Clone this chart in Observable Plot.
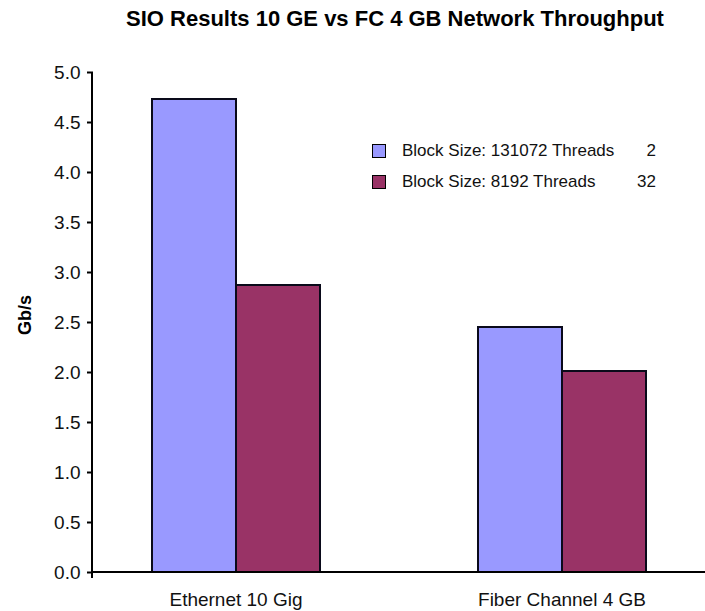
<!DOCTYPE html>
<html>
<head>
<meta charset="utf-8">
<script src="https://cdn.jsdelivr.net/npm/d3@7"></script>
<script src="https://cdn.jsdelivr.net/npm/@observablehq/plot@0.6"></script>
<style>
  html, body { margin: 0; padding: 0; background: #fff; }
  #wrap { position: relative; width: 705px; height: 611px; font-family: "Liberation Sans", Arial, Helvetica, sans-serif; }
  #title { position: absolute; left: 85px; width: 620px; top: 6px; text-align: center; font-weight: bold; font-size: 22px; color: #000; white-space: nowrap; }
  #ylabel { position: absolute; left: 25px; top: 315px; transform: translate(-50%, -50%) rotate(-90deg); font-weight: bold; font-size: 18px; white-space: nowrap; }
  #legend { position: absolute; left: 372px; top: 135px; font-size: 17px; color: #111; }
  .row { display: flex; align-items: center; height: 31px; }
  .sw { width: 12px; height: 12px; border: 1.5px solid #000; margin-right: 16px; box-sizing: content-box; }
  .lab { width: 230px; white-space: nowrap; }
  .num { width: 24px; text-align: right; }
  #chart { position: absolute; left: 0; top: 0; }
</style>
</head>
<body>
<div id="wrap">
  <div id="chart"></div>
  <div id="title"></div>
  <div id="ylabel"></div>
  <div id="legend"></div>
</div>
<script>
const title = "SIO Results 10 GE vs FC 4 GB Network Throughput";
const yLabel = "Gb/s";
const categories = ["Ethernet 10 Gig", "Fiber Channel 4 GB"];
const seriesKeys = ["Block Size: 131072 Threads 2", "Block Size: 8192 Threads 32"];
const legendLabels = ["Block Size: 131072 Threads", "Block Size: 8192 Threads"];
const legendThreads = ["2", "32"];
const seriesA = [4.73, 2.45];
const seriesB = [2.87, 2.01];
const yTicks = [0, 0.5, 1, 1.5, 2, 2.5, 3, 3.5, 4, 4.5, 5];
const colors = ["#9999ff", "#993366"];

const data = [];
categories.forEach((c, i) => {
  data.push({cat: c, key: seriesKeys[0], value: seriesA[i]});
  data.push({cat: c, key: seriesKeys[1], value: seriesB[i]});
});

const W = 705, H = 611;
const plot = Plot.plot({
  width: W, height: H,
  marginLeft: 92, marginRight: 0, marginTop: 72, marginBottom: 39,
  style: {fontFamily: '"Liberation Sans", Arial, Helvetica, sans-serif', fontSize: "19px", color: "#111", background: "#fff"},
  fx: {domain: categories, paddingInner: 0.125, paddingOuter: 0, label: null},
  x: {domain: seriesKeys, paddingInner: 0, paddingOuter: 0.68, axis: null},
  y: {domain: [0, 5], label: null},
  color: {domain: seriesKeys, range: colors},
  marks: [
    Plot.barY(data, {fx: "cat", x: "key", y: "value", fill: "key", stroke: "#0a0a1a", strokeWidth: 2}),
    Plot.axisY({ticks: yTicks, tickFormat: d3.format(".1f"), tickSize: 6, tickPadding: 7, fontSize: 19, stroke: "#000", strokeWidth: 2, label: null}),
    Plot.axisFx({anchor: "bottom", tickSize: 0, tickPadding: 20, fontSize: 19, label: null})
  ]
});
document.getElementById("chart").appendChild(plot);

// axis lines through the library's scales
const ys = plot.scale("y");
const y0 = ys.apply(0), y5 = ys.apply(5);
const svg = d3.select(plot);
svg.append("line").attr("x1", 92).attr("x2", W).attr("y1", y0).attr("y2", y0).attr("stroke", "#000").attr("stroke-width", 2);
svg.append("line").attr("x1", 92).attr("x2", 92).attr("y1", y5).attr("y2", y0 + 6).attr("stroke", "#000").attr("stroke-width", 2);

document.getElementById("title").textContent = title;
document.getElementById("ylabel").textContent = yLabel;
const leg = document.getElementById("legend");
legendLabels.forEach((l, i) => {
  const row = document.createElement("div");
  row.className = "row";
  row.innerHTML = `<div class="sw" style="background:${colors[i]}"></div><div class="lab"></div><div class="num"></div>`;
  row.querySelector(".lab").textContent = l;
  row.querySelector(".num").textContent = legendThreads[i];
  leg.appendChild(row);
});
</script>
</body>
</html>
